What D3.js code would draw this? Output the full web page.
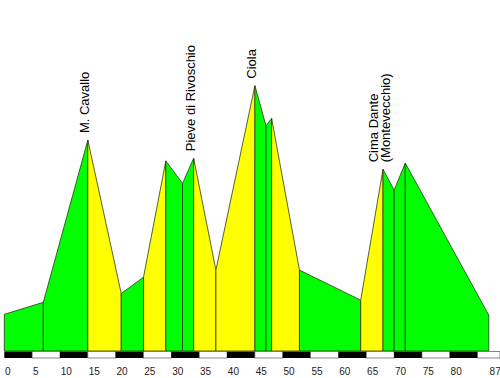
<!DOCTYPE html>
<html lang="en">
<head>
    <meta charset="UTF-8">
    <title>Altimetria</title>
    <script src="https://cdnjs.cloudflare.com/ajax/libs/d3/7.8.5/d3.min.js"></script>
    <style>
        body { margin: 0; background: #fff; }
        svg { display: block; font-family: "Liberation Sans", Arial, sans-serif; }
    </style>
</head>
<body>
    <svg width="500" height="378"></svg>
    <script>
        "use strict";

        // profile points: distance (km) and altitude (m)
        const km = [0, 7, 15, 21, 25, 29, 32, 34, 38, 45, 47, 48, 53, 64, 68, 70, 72, 87];
        const alt = [83, 110, 477, 130, 167, 430, 379, 436, 183, 600, 509, 526, 183, 115, 411, 364, 425, 81];
        // colour class of each segment between two points
        const segType = ["g", "g", "y", "g", "y", "g", "g", "y", "y", "g", "g", "y", "g", "y", "g", "g", "g"];

        const peakNames = [["M. Cavallo"], ["Pieve di Rivoschio"], ["Ciola"], ["Cima Dante", "(Montevecchio)"]];
        const peakKm = [15, 34, 45, 68];

        const tickKm = [0, 5, 10, 15, 20, 25, 30, 35, 40, 45, 50, 55, 60, 65, 70, 75, 80, 87];

        const svg = d3.select("svg");
        const width = +svg.attr("width");

        const x = d3.scaleLinear().domain([0, 87]).range([4.3, 488.8]);
        const y = d3.scaleLinear().domain([0, 700]).range([351, 41.5]);
        const color = d3.scaleOrdinal().domain(["g", "y"]).range(["#00ff00", "#ffff00"]);

        const pts = km.map((k, i) => ({ km: k, alt: alt[i] }));
        const segs = segType.map((t, i) => ({ a: pts[i], b: pts[i + 1], type: t }));

        svg.append("g")
            .selectAll("path")
            .data(segs)
            .enter()
            .append("path")
            .attr("d", d => `M${x(d.a.km)},${y(0)}L${x(d.a.km)},${y(d.a.alt)}L${x(d.b.km)},${y(d.b.alt)}L${x(d.b.km)},${y(0)}Z`)
            .attr("fill", d => color(d.type))
            .attr("stroke", "#2a3a1a")
            .attr("stroke-width", 0.8)
            .attr("stroke-linejoin", "miter");

        // km bar, black and white every 5 km
        const bands = d3.range(0, 90, 5);
        svg.append("g")
            .selectAll("rect")
            .data(bands)
            .enter()
            .append("rect")
            .attr("x", d => x(d))
            .attr("y", 351.5)
            .attr("width", d => Math.min(x(d + 5), width) - x(d))
            .attr("height", 6.5)
            .attr("fill", (d, i) => i % 2 ? "#fff" : "#000")
            .attr("stroke", (d, i) => i % 2 ? "#555" : "none")
            .attr("stroke-width", 0.7);

        svg.append("g")
            .selectAll("text")
            .data(tickKm)
            .enter()
            .append("text")
            .attr("x", d => x(d) + 0.8)
            .attr("y", 374.5)
            .attr("font-size", 10)
            .attr("fill", "#222")
            .text(d => d);

        // peak names, vertical
        const labels = svg.append("g")
            .selectAll("text")
            .data(peakKm.map((k, i) => ({ km: k, alt: alt[km.indexOf(k)], lines: peakNames[i] })))
            .enter()
            .append("text")
            .attr("font-size", 13)
            .attr("fill", "#000")
            .attr("text-anchor", "start")
            .attr("transform", d => `translate(${x(d.km)},${y(d.alt) - 7}) rotate(-90)`);

        labels.selectAll("tspan")
            .data(d => d.lines.map((t, j) => ({ t, off: (j - (d.lines.length - 1) / 2) * 12 + 1 })))
            .enter()
            .append("tspan")
            .attr("x", 0)
            .attr("y", d => d.off)
            .text(d => d.t);
    </script>
</body>
</html>
